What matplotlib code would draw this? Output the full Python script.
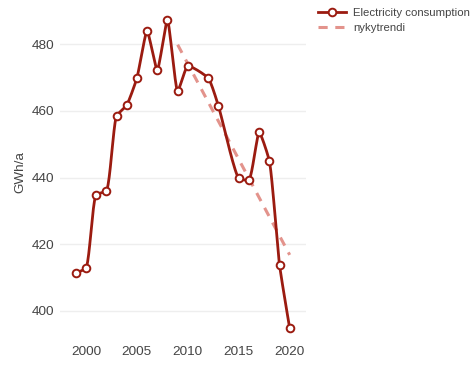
import numpy as np
import matplotlib
matplotlib.use("Agg")
import matplotlib.pyplot as plt
from matplotlib.lines import Line2D

plt.rcParams['font.family'] = ['Liberation Sans', 'DejaVu Sans']

years = [1999, 2000, 2001, 2002, 2003, 2004, 2005, 2006, 2007, 2008,
         2009, 2010, 2012, 2013, 2015, 2016, 2017, 2018, 2019, 2020]
consumption = [411.4, 412.9, 434.8, 436.0, 458.4, 461.7, 469.8, 483.9, 472.2, 487.2,
               465.9, 473.4, 469.8, 461.5, 439.8, 439.3, 453.5, 445.0, 413.8, 394.8]
trend_years = [2009, 2020]
trend_values = [479.8, 416.8]
yticks = [400, 420, 440, 460, 480]
xticks = [2000, 2005, 2010, 2015, 2020]

red = '#9b1b10'
pink = '#e3938c'
grey = '#444444'


def spline_pts(px, py, smooth=1.0, n=20):
    # plotly-like spline smoothing in display coords
    pts = np.column_stack([px, py])
    tans = []
    for i in range(1, len(pts) - 1):
        p, t, nx = pts[i - 1], pts[i], pts[i + 1]
        d1 = p - t
        d2 = nx - t
        d1a = np.hypot(*d1) ** 0.5
        d2a = np.hypot(*d2) ** 0.5
        num = (d2a * d2a * d1 - d1a * d1a * d2) * smooth
        den1 = 3 * d2a * (d1a + d2a)
        den2 = 3 * d1a * (d1a + d2a)
        tans.append((t + num / den1, t - num / den2))
    out = [pts[0]]
    s = np.linspace(0, 1, n)[1:, None]
    # first segment quadratic
    c = tans[0][0]
    seg = (1 - s) ** 2 * pts[0] + 2 * (1 - s) * s * c + s ** 2 * pts[1]
    out.extend(seg)
    for i in range(1, len(pts) - 2):
        a, b = pts[i], pts[i + 1]
        c1 = tans[i - 1][1]
        c2 = tans[i][0]
        seg = ((1 - s) ** 3 * a + 3 * (1 - s) ** 2 * s * c1
               + 3 * (1 - s) * s ** 2 * c2 + s ** 3 * b)
        out.extend(seg)
    c = tans[-1][1]
    seg = (1 - s) ** 2 * pts[-2] + 2 * (1 - s) * s * c + s ** 2 * pts[-1]
    out.extend(seg)
    return np.array(out)


fig = plt.figure(figsize=(4.75, 3.7), dpi=100)
ax = fig.add_axes([60 / 475, 30 / 370, 246 / 475, 335 / 370])
ax.set_xlim(1997.45, 2021.6)
ax.set_ylim(391.3, 491.7)

for s in ax.spines.values():
    s.set_visible(False)
ax.set_yticks(yticks)
ax.set_xticks(xticks)
ax.tick_params(length=0, labelsize=9.7, colors=grey, pad=4)
ax.grid(axis='y', color='#eeeeee', linewidth=1)
ax.set_axisbelow(True)
ax.set_ylabel('GWh/a', fontsize=9.7, color=grey, labelpad=4)

fig.canvas.draw()
disp = ax.transData.transform(np.column_stack([years, consumption]))
curve = spline_pts(disp[:, 0], disp[:, 1], smooth=0.5)
curve = ax.transData.inverted().transform(curve)

ax.plot(trend_years, trend_values, color=pink, lw=2.2, dashes=(3, 2.5), zorder=2)
ax.plot(curve[:, 0], curve[:, 1], color=red, lw=2.0, zorder=3)
ax.plot(years, consumption, 'o', ms=5.5, mfc='white', mec=red, mew=1.4, zorder=4)

handles = [
    Line2D([], [], color=red, lw=2.0, marker='o', ms=5.5, mfc='white', mec=red, mew=1.4),
    Line2D([], [], color=pink, lw=2.2, dashes=(3, 2.5)),
]
fig.legend(handles, ['Electricity consumption', 'nykytrendi'],
           loc='upper left', bbox_to_anchor=(313 / 475, 1 - 3 / 370),
           frameon=False, fontsize=8.2, labelcolor=grey, handlelength=2.5,
           handletextpad=0.6, borderaxespad=0, labelspacing=0.5)

fig.savefig('out.png', dpi=100)
